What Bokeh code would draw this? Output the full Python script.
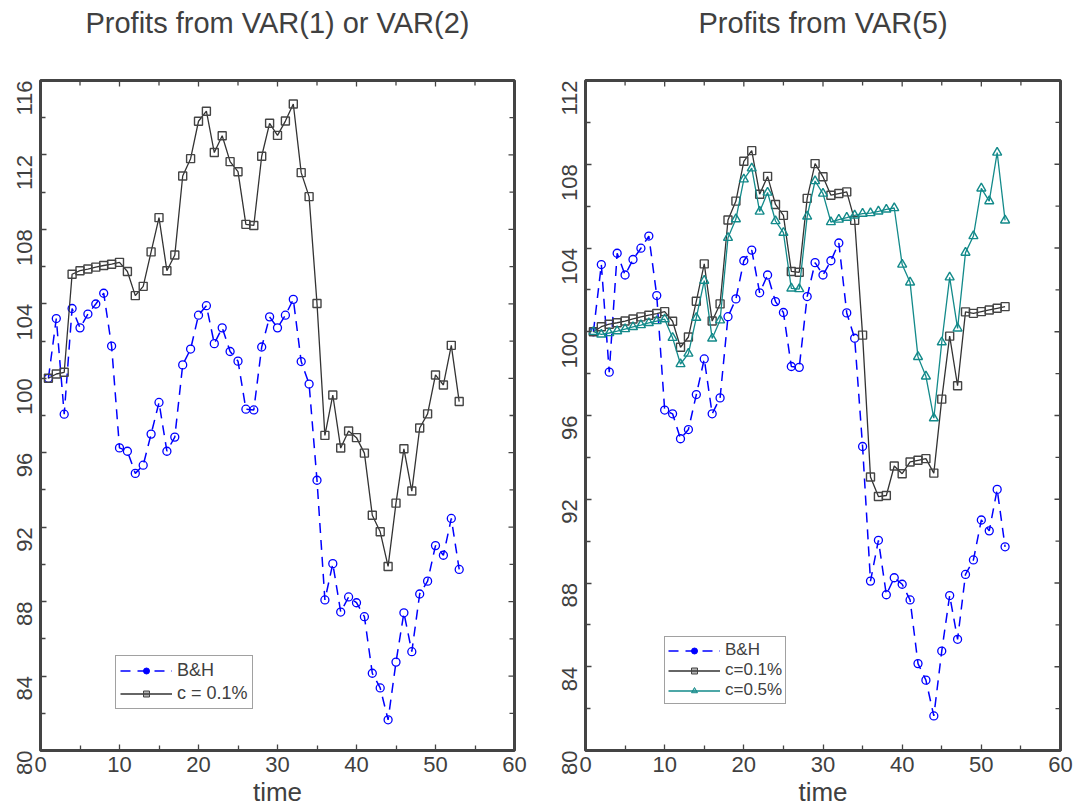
import math
from bokeh.plotting import figure
from bokeh.models import FixedTicker, Legend, LegendItem, Range1d, ColumnDataSource, LinearAxis
from bokeh.layouts import row
from bokeh.embed import file_html
from bokeh.resources import INLINE

# ---------------- data ----------------
time = list(range(1, 54))

bh = [100.0, 103.21, 98.07, 103.75, 102.71, 103.45, 103.99, 104.57, 101.73, 96.26,
      96.08, 94.89, 95.33, 97.0, 98.7, 96.08, 96.84, 100.72, 101.57, 103.39,
      103.9, 101.86, 102.71, 101.44, 100.92, 98.34, 98.3, 101.68, 103.3, 102.71,
      103.39, 104.24, 100.9, 99.69, 94.52, 88.09, 90.04, 87.44, 88.25, 87.94,
      87.19, 84.15, 83.36, 81.65, 84.75, 87.4, 85.31, 88.41, 89.1, 91.01,
      90.49, 92.47, 89.73]

var12_c01 = [100.0, 100.23, 100.32, 105.59, 105.78, 105.87, 105.97, 106.06, 106.13, 106.23,
             105.74, 104.44, 104.94, 106.79, 108.63, 105.78, 106.62, 110.87, 111.8, 113.81,
             114.35, 112.13, 113.03, 111.64, 111.1, 108.27, 108.21, 111.93, 113.7, 113.05,
             113.82, 114.74, 111.05, 109.76, 104.02, 96.93, 99.1, 96.25, 97.17, 96.81,
             95.98, 92.64, 91.75, 89.89, 93.29, 96.21, 93.94, 97.33, 98.09, 100.18,
             99.64, 101.77, 98.75]

var5_c01 = [100.0, 100.24, 100.36, 100.43, 100.51, 100.61, 100.71, 100.79, 100.87, 100.96,
            100.5, 99.26, 99.75, 101.46, 103.24, 100.51, 101.33, 105.34, 106.24, 108.14,
            108.65, 106.57, 107.42, 106.08, 105.56, 102.88, 102.84, 106.37, 108.03, 107.4,
            106.52, 106.6, 106.68, 105.32, 99.84, 93.06, 92.13, 92.18, 93.59, 93.22,
            93.78, 93.86, 93.94, 93.25, 96.78, 99.79, 97.42, 100.95, 100.88, 100.96,
            101.04, 101.12, 101.2]

var5_c05 = [100.0, 99.87, 99.94, 100.03, 100.13, 100.23, 100.32, 100.42, 100.51, 100.6,
            99.71, 98.46, 98.96, 100.67, 102.44, 99.68, 100.55, 104.49, 105.38, 107.28,
            107.81, 105.74, 106.65, 105.29, 104.73, 102.07, 102.04, 105.51, 107.2, 106.6,
            105.24, 105.36, 105.45, 105.56, 105.64, 105.67, 105.75, 105.84, 105.91, 103.21,
            102.36, 98.8, 97.87, 95.87, 99.5, 102.6, 100.16, 103.78, 104.57, 106.85,
            106.24, 108.56, 105.32]

x_major = [0, 10, 20, 30, 40, 50, 60]
x_minor = [5, 15, 25, 35, 45, 55]

titles = ["Profits from VAR(1) or VAR(2)", "Profits from VAR(5)"]
legend_labels_left = ["B&H", "c = 0.1%"]
legend_labels_right = ["B&H", "c=0.1%", "c=0.5%"]

# ---------------- style ----------------
FONT = "Liberation Sans"
TXT = "#404040"
FRAME = "#444444"
BLUE = "#0000ff"
DARK = "#333333"
TEAL = "#138a8a"
NAN = float("nan")


def style_axis(ax, major, minor, standoff, size, orient=None):
    ax.ticker = FixedTicker(ticks=major, minor_ticks=minor)
    ax.axis_line_color = None
    ax.major_tick_in = 6
    ax.major_tick_out = 0
    ax.minor_tick_in = 5
    ax.minor_tick_out = 0
    ax.major_tick_line_color = FRAME
    ax.minor_tick_line_color = FRAME
    ax.major_tick_line_width = 1.3
    ax.minor_tick_line_width = 1.3
    ax.major_label_text_font = FONT
    ax.major_label_text_font_size = size
    ax.major_label_text_color = TXT
    ax.major_label_standoff = standoff
    if orient is not None:
        ax.major_label_orientation = orient


def make_fig(title, ymax, width, bl, br):
    p = figure(width=width, height=812, x_range=Range1d(0, 60), y_range=Range1d(80, ymax),
               output_backend="svg", toolbar_location=None,
               min_border_left=bl, min_border_right=br, min_border_top=80, min_border_bottom=62)
    p.title.visible = False
    p.grid.visible = False
    p.outline_line_color = FRAME
    p.outline_line_width = 3
    p.background_fill_color = "white"
    p.border_fill_color = "white"

    bottom = p.below[0]
    left = p.left[0]

    y_major = list(range(80, ymax + 1, 4))
    y_minor = list(range(82, ymax, 4))
    style_axis(bottom, x_major, x_minor, 6, "22px")
    style_axis(left, y_major, y_minor, 16, "22px", orient=math.pi / 2)
    bottom.axis_label = "time"
    bottom.axis_label_text_font = FONT
    bottom.axis_label_text_font_size = "26px"
    bottom.axis_label_text_font_style = "normal"
    bottom.axis_label_text_color = TXT
    bottom.axis_label_standoff = 2

    # title drawn as the label of a tick-less top axis, so it can sit well above the frame
    top = LinearAxis(ticker=FixedTicker(ticks=[]), axis_label=title)
    top.axis_line_color = None
    top.major_tick_line_color = None
    top.minor_tick_line_color = None
    top.major_label_standoff = 0
    top.axis_label_text_font = FONT
    top.axis_label_text_font_size = "29px"
    top.axis_label_text_font_style = "normal"
    top.axis_label_text_color = TXT
    top.axis_label_standoff = 42
    p.add_layout(top, "above")

    # inward ticks on the top and right edges of the frame
    p.ray(x=x_major, y=[ymax] * len(x_major), length=6, angle=-math.pi / 2,
          length_units="screen", line_color=FRAME, line_width=1.3)
    p.ray(x=x_minor, y=[ymax] * len(x_minor), length=5, angle=-math.pi / 2,
          length_units="screen", line_color=FRAME, line_width=1.3)
    p.ray(x=[60] * len(y_major), y=y_major, length=6, angle=math.pi,
          length_units="screen", line_color=FRAME, line_width=1.3)
    p.ray(x=[60] * len(y_minor), y=y_minor, length=5, angle=math.pi,
          length_units="screen", line_color=FRAME, line_width=1.3)
    return p


def add_bh(p):
    src = ColumnDataSource(dict(x=time, y=bh))
    ln = p.line("x", "y", source=src, line_color=BLUE, line_width=1.5, line_dash="10 7")
    p.scatter("x", "y", source=src, marker="circle", size=8, line_color=BLUE,
              line_width=1.3, fill_alpha=0)
    mk = p.scatter(x=[NAN], y=[NAN], marker="circle", size=6, line_color=BLUE, fill_color=BLUE)
    return [ln, mk]


def add_series(p, ys, color, marker, size, mcolor):
    src = ColumnDataSource(dict(x=time, y=ys))
    ln = p.line("x", "y", source=src, line_color=color, line_width=1.3)
    p.scatter("x", "y", source=src, marker=marker, size=size, line_color=mcolor,
              line_width=1.4, fill_alpha=0)
    mk = p.scatter(x=[NAN], y=[NAN], marker=marker, size=6, line_color=mcolor,
                   fill_color=mcolor, fill_alpha=0.4)
    return [ln, mk]


def add_legend(p, items, loc, fsize, spacing, pad):
    lg = Legend(items=items, location=loc)
    lg.label_text_font = FONT
    lg.label_text_font_size = fsize
    lg.label_text_color = TXT
    lg.glyph_width = 52
    lg.glyph_height = 15
    lg.label_height = 15
    lg.spacing = spacing
    lg.padding = pad
    lg.margin = 0
    lg.label_standoff = 5
    lg.border_line_color = FRAME
    lg.border_line_width = 1.5
    lg.background_fill_color = "white"
    lg.background_fill_alpha = 1
    p.add_layout(lg)


# ---------------- left ----------------
p1 = make_fig(titles[0], 116, 545, 40, 31)
r_bh1 = add_bh(p1)
r_c1 = add_series(p1, var12_c01, DARK, "square", 8, FRAME)
add_legend(p1, [LegendItem(label=legend_labels_left[0], renderers=r_bh1),
                LegendItem(label=legend_labels_left[1], renderers=r_c1)],
           (75, 41), "18px", 2, 4)

# ---------------- right ----------------
p2 = make_fig(titles[1], 112, 530, 40, 15)
r_bh2 = add_bh(p2)
r_c2 = add_series(p2, var5_c01, DARK, "square", 8, FRAME)
r_c5 = add_series(p2, var5_c05, TEAL, "triangle", 9, TEAL)
add_legend(p2, [LegendItem(label=legend_labels_right[0], renderers=r_bh2),
                LegendItem(label=legend_labels_right[1], renderers=r_c2),
                LegendItem(label=legend_labels_right[2], renderers=r_c5)],
           (79, 46), "17px", 0, 3)

layout = row(p1, p2)
open("out.html", "w").write(file_html(layout, INLINE))
